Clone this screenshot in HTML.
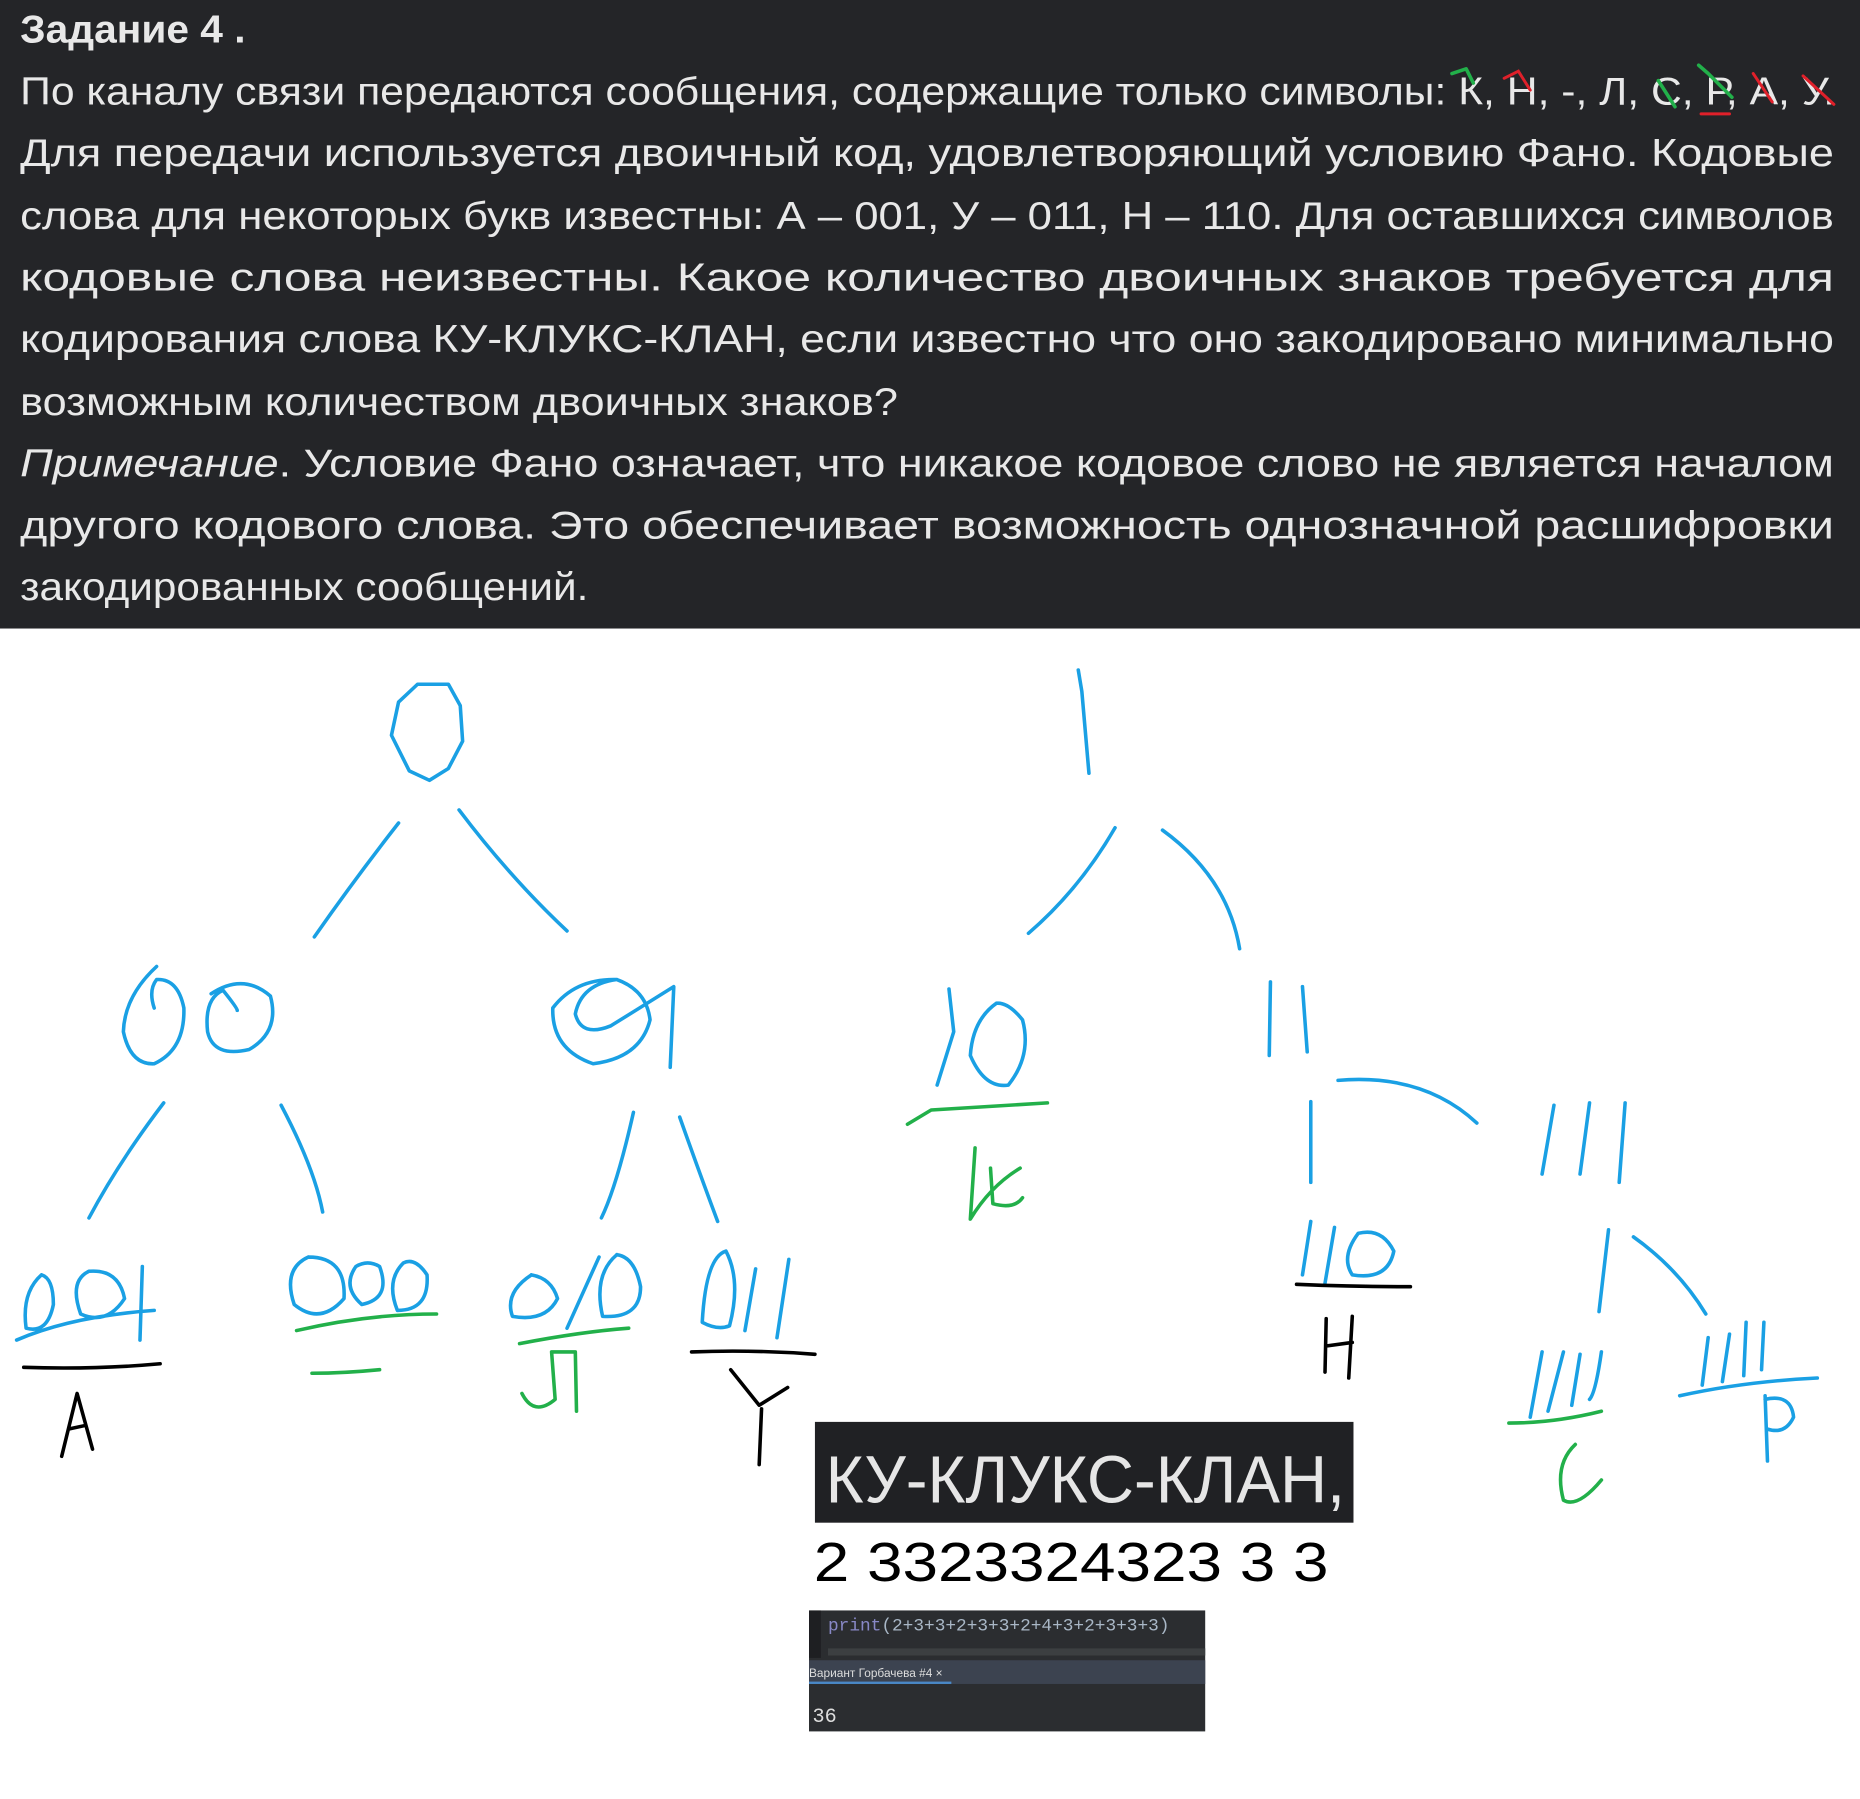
<!DOCTYPE html>
<html><head><meta charset="utf-8"><style>
html,body{margin:0;padding:0;background:#fff;}
svg{display:block;}
.t{font-family:"Liberation Sans","DejaVu Sans",sans-serif;font-size:33px;fill:#e8e8e8;}
.b{fill:none;stroke:#1aa0e4;stroke-width:3;stroke-linecap:round;stroke-linejoin:round;}
.g{fill:none;stroke:#22b04a;stroke-width:3;stroke-linecap:round;stroke-linejoin:round;}
.k{fill:none;stroke:#000;stroke-width:3;stroke-linecap:round;stroke-linejoin:round;}
.r{fill:none;stroke:#e0202a;stroke-width:2.5;stroke-linecap:round;}
</style></head><body>
<svg width="1860" height="1799" viewBox="0 0 1568 1517" preserveAspectRatio="none" xmlns="http://www.w3.org/2000/svg">
<rect x="0" y="0" width="1568" height="530" fill="#242528"/>
<text class="t" x="17" y="36" font-weight="bold" textLength="190" lengthAdjust="spacingAndGlyphs">Задание 4 .</text>
<text class="t" x="17" y="88" textLength="1530" lengthAdjust="spacingAndGlyphs">По каналу связи передаются сообщения, содержащие только символы: К, Н, -, Л, С, Р, А, У.</text>
<text class="t" x="17" y="140" textLength="1529" lengthAdjust="spacingAndGlyphs">Для передачи используется двоичный код, удовлетворяющий условию Фано. Кодовые</text>
<text class="t" x="17" y="193" textLength="1529" lengthAdjust="spacingAndGlyphs">слова для некоторых букв известны: А – 001, У – 011, Н – 110. Для оставшихся символов</text>
<text class="t" x="17" y="245" textLength="1529" lengthAdjust="spacingAndGlyphs">кодовые слова неизвестны. Какое количество двоичных знаков требуется для</text>
<text class="t" x="17" y="297" textLength="1529" lengthAdjust="spacingAndGlyphs">кодирования слова КУ-КЛУКС-КЛАН, если известно что оно закодировано минимально</text>
<text class="t" x="17" y="350" textLength="740" lengthAdjust="spacingAndGlyphs">возможным количеством двоичных знаков?</text>
<text class="t" x="17" y="402" textLength="1529" lengthAdjust="spacingAndGlyphs"><tspan font-style="italic">Примечание</tspan>. Условие Фано означает, что никакое кодовое слово не является началом</text>
<text class="t" x="17" y="454" textLength="1529" lengthAdjust="spacingAndGlyphs">другого кодового слова. Это обеспечивает возможность однозначной расшифровки</text>
<text class="t" x="17" y="506" textLength="479" lengthAdjust="spacingAndGlyphs">закодированных сообщений.</text>
<!-- annotation marks -->
<path class="g" d="M1224 62 L1236 58 L1242 70"/><path class="r" d="M1268 66 L1280 60 L1290 76"/>
<path class="g" d="M1398 68 L1412 90"/><path class="g" d="M1432 55 L1440 62 L1460 82"/>
<path class="r" d="M1434 96 L1458 96"/><path class="r" d="M1478 62 L1494 86"/><path class="r" d="M1520 64 L1546 88"/>
<!-- blue tree left -->
<path class="b" d="M352 577 L336 592 L330 620 L345 650 L362 658 L378 648 L390 625 L388 595 L378 577 Z"/>
<path class="b" d="M336 694 Q300 740 265 790"/><path class="b" d="M387 683 Q430 740 478 785"/>
<path class="b" d="M132 815 Q105 840 104 870 Q110 898 130 897 Q156 885 155 850 Q150 825 132 826 Q125 835 130 850"/>
<path class="b" d="M178 838 Q205 820 228 840 Q236 870 210 885 Q180 892 175 870 Q172 842 188 835 Q200 850 200 852"/>
<path class="b" d="M520 826 Q485 825 466 850 Q465 885 500 897 Q540 892 548 860 Q545 835 520 826 Q490 830 485 855 Q490 875 515 865 L568 832 L565 900"/>
<path class="b" d="M138 930 Q100 980 75 1027"/><path class="b" d="M237 932 Q265 985 272 1022"/>
<path class="b" d="M534 938 Q520 1000 507 1027"/><path class="b" d="M573 942 Q590 990 605 1030"/>
<!-- leaves -->
<path class="b" d="M35 1075 Q18 1090 22 1120 Q40 1125 45 1100 Q45 1078 35 1075 M75 1072 Q58 1080 68 1108 Q90 1118 105 1095 Q100 1070 75 1072 M120 1068 L118 1130 M14 1130 Q60 1110 130 1105"/>
<path class="b" d="M260 1060 Q238 1070 248 1100 Q270 1118 290 1095 Q292 1060 260 1060 M300 1068 Q288 1085 305 1100 Q330 1095 320 1068 Q310 1062 300 1068 M340 1065 Q325 1080 335 1105 Q362 1105 360 1075 Q350 1060 340 1065"/>
<path class="g" d="M250 1122 Q310 1108 368 1108 M263 1158 Q290 1158 320 1155"/>
<path class="k" d="M20 1153 Q80 1155 135 1150 M52 1228 L65 1175 L78 1222 M58 1205 L72 1202"/>
<path class="b" d="M448 1075 Q425 1090 432 1110 Q460 1115 470 1095 Q465 1078 448 1075 M505 1060 L478 1120 M520 1058 Q500 1075 508 1110 Q540 1112 540 1085 Q535 1060 520 1058"/>
<path class="g" d="M438 1133 Q490 1123 530 1120 M440 1175 Q450 1195 468 1180 L465 1140 L485 1140 L486 1190"/>
<path class="b" d="M612 1055 Q595 1060 592 1115 Q605 1122 615 1118 Q625 1080 612 1055 M637 1070 L628 1122 M665 1062 L655 1128"/>
<path class="k" d="M583 1140 Q635 1138 687 1142 M616 1155 L640 1185 L664 1170 M642 1188 L640 1235"/>
<!-- right tree -->
<path class="b" d="M909 565 L912 583 L918 652"/>
<path class="b" d="M940 698 Q910 750 867 787"/><path class="b" d="M980 700 Q1035 740 1045 800"/>
<path class="b" d="M800 834 L804 870 L790 915 M840 846 Q820 860 818 890 Q830 918 850 915 Q870 890 862 860 Q850 845 840 846"/>
<path class="g" d="M765 948 L785 936 L883 930 M822 968 L818 1028 Q835 1000 860 985 M835 985 L837 1015 Q855 1020 862 1010"/>
<path class="b" d="M1071 828 L1070 890 M1098 832 L1102 887"/>
<path class="b" d="M1128 911 Q1200 905 1245 947"/><path class="b" d="M1105 929 L1105 997"/>
<path class="b" d="M1310 932 L1300 990 M1340 930 L1332 990 M1370 930 L1365 997"/>
<path class="b" d="M1356 1037 L1348 1106"/><path class="b" d="M1377 1043 Q1415 1070 1438 1108"/>
<path class="b" d="M1105 1030 L1098 1075 M1125 1035 L1117 1082 M1145 1040 Q1130 1060 1140 1075 Q1170 1080 1175 1055 Q1165 1035 1145 1040"/>
<path class="k" d="M1093 1083 Q1140 1085 1189 1085 M1118 1112 L1117 1157 M1140 1110 L1137 1162 M1118 1135 L1140 1132"/>
<path class="b" d="M1300 1140 L1290 1195 M1318 1140 L1305 1190 M1332 1142 L1325 1185 M1350 1140 Q1345 1175 1340 1180"/>
<path class="g" d="M1272 1200 Q1310 1200 1350 1190 M1328 1218 Q1310 1235 1318 1265 Q1330 1272 1350 1248"/>
<path class="b" d="M1440 1128 L1435 1168 M1458 1125 L1452 1165 M1472 1115 L1470 1160 M1487 1115 L1485 1155 M1416 1177 Q1470 1165 1532 1162 M1488 1177 L1490 1232 M1488 1180 Q1510 1175 1512 1195 Q1505 1210 1490 1205"/>
<!-- black box -->
<rect x="687" y="1199" width="454" height="85" fill="#202124"/>
<text x="696" y="1267" font-family="Liberation Sans, sans-serif" font-size="56" fill="#e6e6e6" textLength="438" lengthAdjust="spacingAndGlyphs">КУ-КЛУКС-КЛАН,</text>
<text x="686" y="1333" font-family="Liberation Sans, sans-serif" font-size="46" fill="#000" textLength="434" lengthAdjust="spacingAndGlyphs" style="font-weight:300">2 3323324323 3 3</text>
<!-- console -->
<rect x="682" y="1358" width="334" height="102" fill="#2b2d30"/>
<rect x="682" y="1358" width="10" height="40" fill="#1e1f22"/>
<text x="698" y="1375" font-family="Liberation Mono, monospace" font-size="15" fill="#a9b7c6"><tspan fill="#8888c6">print</tspan>(2+3+3+2+3+3+2+4+3+2+3+3+3)</text>
<rect x="698" y="1390" width="318" height="6" fill="#3c3f41"/>
<rect x="682" y="1400" width="334" height="20" fill="#3c4350"/>
<text x="682" y="1414" font-family="Liberation Sans, sans-serif" font-size="10" fill="#ddd">Вариант Горбачева #4 ×</text>
<rect x="682" y="1418" width="120" height="2" fill="#4a88c7"/>
<text x="685" y="1452" font-family="Liberation Mono, monospace" font-size="17" fill="#ddd">36</text>
</svg>
</body></html>
